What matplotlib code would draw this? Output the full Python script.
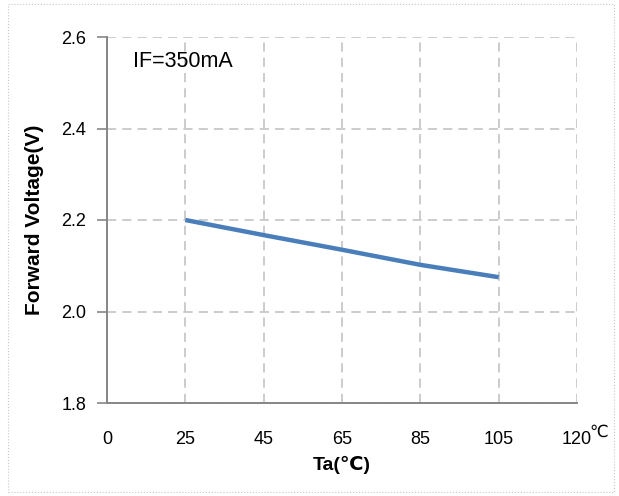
import matplotlib
matplotlib.use("Agg")
import matplotlib.pyplot as plt
from matplotlib.patches import Rectangle

# categorical temperature axis (evenly spaced labels)
temp_labels = ["0", "25", "45", "65", "85", "105", "120"]
curve_temps = ["25", "45", "65", "85", "105"]
forward_voltage = [2.200, 2.167, 2.135, 2.102, 2.075]
y_ticks = [1.8, 2.0, 2.2, 2.4, 2.6]

plt.rcParams["font.family"] = ["Liberation Sans Narrow", "Liberation Sans", "DejaVu Sans"]

fig = plt.figure(figsize=(6.19, 4.96), dpi=100)
ax = fig.add_axes([107 / 619, 1 - 403 / 496, (577 - 107) / 619, (403 - 37) / 496])

xpos = [temp_labels.index(t) for t in curve_temps]
ax.plot(xpos, forward_voltage, color="#4A7EBB", lw=3.2, solid_capstyle="butt")

ax.set_xlim(0, len(temp_labels) - 1)
ax.set_ylim(1.8, 2.6)
ax.set_xticks(range(len(temp_labels)))
ax.set_xticklabels(temp_labels, fontsize=13)
ax.set_yticks(y_ticks)
ax.set_yticklabels([f"{v:.1f}" for v in y_ticks], fontsize=13)

ax.grid(True, color="#BFBFBF", ls=(0, (6, 4)), lw=1.1)
ax.set_axisbelow(True)
for s in ["top", "right"]:
    ax.spines[s].set_visible(False)
for s in ["left", "bottom"]:
    ax.spines[s].set_color("#868686")
    ax.spines[s].set_linewidth(1.4)
ax.tick_params(axis="y", length=7, width=1.2, color="#868686", pad=8)
ax.tick_params(axis="x", length=0, pad=20)

ax.set_xlabel("Ta(℃)", fontsize=14, fontweight="bold", labelpad=6)
ax.set_ylabel("Forward Voltage(V)", fontsize=15, fontweight="bold", labelpad=12)
ax.text(0.33, 2.535, "IF=350mA", fontsize=15.5)
ax.annotate("℃", xy=(1.0, 0), xycoords="axes fraction", xytext=(9, -16),
            textcoords="offset points", fontsize=12, va="top", ha="left",
            annotation_clip=False)

# light dotted outer frame
fig.patches.append(Rectangle((8 / 619, 4 / 496), 606 / 619, 488 / 496,
                             transform=fig.transFigure, fill=False,
                             ec="#C8C8C8", lw=0.8, ls=":"))

fig.savefig("out.png", dpi=100, facecolor="white")
